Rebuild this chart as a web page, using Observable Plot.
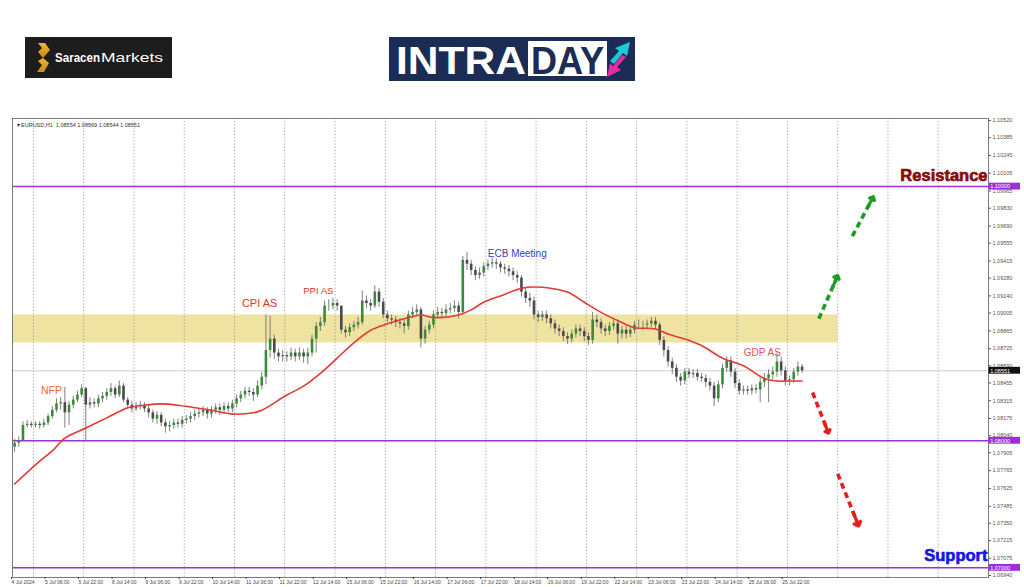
<!DOCTYPE html>
<html><head><meta charset="utf-8">
<script src="https://cdn.jsdelivr.net/npm/d3@7"></script>
<script src="https://cdn.jsdelivr.net/npm/@observablehq/plot@0.6"></script>
<style>
html,body{margin:0;padding:0;background:#fff;width:1024px;height:587px;overflow:hidden;font-family:"Liberation Sans",Arial,sans-serif}
#header{position:relative;width:1024px;height:110px}
#chart svg{display:block}
</style></head>
<body>
<div id="header">
  <svg style="position:absolute;left:25px;top:37px" width="147" height="41">
    <rect width="147" height="41" fill="#1d1d1d"/>
    <defs><linearGradient id="gold" x1="0" y1="0" x2="0" y2="1"><stop offset="0" stop-color="#f2b632"/><stop offset="1" stop-color="#c98a1c"/></linearGradient></defs>
    <path d="M13 6 L20 6 L25 13 L18 21 L13 15 L17 11 Z" fill="url(#gold)"/>
    <path d="M18 21 L24 26 L19 35 L12 35 L17 28 L13 24 Z" fill="url(#gold)"/>
    <text x="30" y="25" fill="#fff" font-family="Liberation Sans, Arial, sans-serif" font-weight="bold" font-size="13" textLength="45" lengthAdjust="spacingAndGlyphs">Saracen</text>
    <text x="76" y="25" fill="#fff" font-family="Liberation Sans, Arial, sans-serif" font-size="13" textLength="62" lengthAdjust="spacingAndGlyphs">Markets</text>
  </svg>
  <svg style="position:absolute;left:389px;top:37px" width="246" height="44">
    <rect width="246" height="44" fill="#1b2d55"/>
    <text x="7" y="37" fill="#fff" font-family="Liberation Sans Narrow, Liberation Sans, Arial, sans-serif" font-weight="bold" font-size="38" textLength="130" lengthAdjust="spacingAndGlyphs">INTRA</text>
    <rect x="139" y="4" width="79" height="35" fill="#fff"/>
    <text x="142" y="37" fill="#1b2d55" font-family="Liberation Sans Narrow, Liberation Sans, Arial, sans-serif" font-weight="bold" font-size="38" textLength="73" lengthAdjust="spacingAndGlyphs">DAY</text>
    <path d="M221 24 L230 14 L226 11 L241 5 L238 19 L234 16 L225 27 Z" fill="#22c7d6"/>
    <path d="M237 20 L228 30 L232 33 L218 40 L221 26 L224 29 L233 18 Z" fill="#e62aa8"/>
  </svg>
</div>
<div id="chart"></div>
<script>
// ---- Data (EURUSD, 2-hour bars) ----
const firstOpen = 1.0795;
const closes = [
1.0798,1.0800,1.0812,1.0813,1.0812,1.0813,1.0812,1.0814,1.0819,1.0824,
1.0829,1.0830,1.0822,1.0828,1.0832,1.0836,1.0841,1.0828,1.0830,1.0829,
1.0833,1.0835,1.0838,1.0841,1.0836,1.0843,1.0832,1.0828,1.0825,1.0827,
1.0828,1.0825,1.0822,1.0817,1.0820,1.0814,1.0811,1.0812,1.0814,1.0813,
1.0816,1.0817,1.0819,1.0821,1.0822,1.0824,1.0821,1.0824,1.0826,1.0824,
1.0827,1.0825,1.0829,1.0833,1.0836,1.0839,1.0838,1.0836,1.0843,1.0850,
1.0871,1.0880,1.0869,1.0866,1.0867,1.0866,1.0869,1.0866,1.0869,1.0866,
1.0869,1.0880,1.0890,1.0893,1.0906,1.0906,1.0908,1.0906,1.0887,1.0885,
1.0889,1.0891,1.0893,1.0910,1.0908,1.0906,1.0917,1.0909,1.0899,1.0896,
1.0895,1.0893,1.0892,1.0890,1.0899,1.0901,1.0903,1.0880,1.0887,1.0891,
1.0899,1.0901,1.0900,1.0903,1.0904,1.0906,1.0901,1.0942,1.0939,1.0934,
1.0930,1.0932,1.0937,1.0939,1.0940,1.0939,1.0936,1.0935,1.0933,1.0930,
1.0928,1.0917,1.0912,1.0910,1.0899,1.0897,1.0899,1.0896,1.0892,1.0888,
1.0886,1.0882,1.0880,1.0884,1.0888,1.0886,1.0882,1.0879,1.0895,1.0893,
1.0888,1.0886,1.0890,1.0892,1.0884,1.0887,1.0884,1.0887,1.0891,1.0891,
1.0891,1.0892,1.0894,1.0891,1.0879,1.0871,1.0862,1.0857,1.0850,1.0847,
1.0854,1.0852,1.0853,1.0850,1.0849,1.0846,1.0843,1.0833,1.0844,1.0857,
1.0863,1.0854,1.0845,1.0839,1.0840,1.0839,1.0841,1.0840,1.0846,1.0849,
1.0852,1.0854,1.0862,1.0855,1.0847,1.0848,1.0854,1.0858,1.0855];
const highs = [
1.0801,1.0803,1.0815,1.0816,1.0815,1.0815,1.0815,1.0817,1.0821,1.0827,
1.0833,1.0834,1.0842,1.0831,1.0835,1.0839,1.0844,1.0842,1.0834,1.0833,
1.0836,1.0838,1.0841,1.0845,1.0843,1.0847,1.0845,1.0834,1.0831,1.0830,
1.0831,1.0830,1.0828,1.0824,1.0823,1.0822,1.0817,1.0815,1.0817,1.0817,
1.0819,1.0820,1.0822,1.0824,1.0825,1.0827,1.0826,1.0827,1.0829,1.0829,
1.0830,1.0830,1.0832,1.0836,1.0839,1.0842,1.0842,1.0841,1.0847,1.0854,
1.0899,1.0898,1.0883,1.0872,1.0871,1.0870,1.0873,1.0872,1.0873,1.0872,
1.0873,1.0883,1.0893,1.0897,1.0910,1.0911,1.0912,1.0911,1.0893,1.0890,
1.0892,1.0894,1.0897,1.0918,1.0914,1.0911,1.0922,1.0920,1.0912,1.0902,
1.0899,1.0898,1.0896,1.0895,1.0902,1.0905,1.0907,1.0905,1.0890,1.0894,
1.0902,1.0905,1.0904,1.0907,1.0908,1.0910,1.0909,1.0945,1.0948,1.0942,
1.0937,1.0936,1.0940,1.0942,1.0944,1.0943,1.0941,1.0939,1.0938,1.0936,
1.0933,1.0930,1.0920,1.0916,1.0913,1.0902,1.0902,1.0902,1.0899,1.0895,
1.0891,1.0889,1.0885,1.0887,1.0891,1.0891,1.0889,1.0885,1.0901,1.0899,
1.0896,1.0891,1.0893,1.0895,1.0895,1.0890,1.0890,1.0890,1.0894,1.0895,
1.0894,1.0895,1.0897,1.0897,1.0893,1.0882,1.0874,1.0865,1.0860,1.0853,
1.0857,1.0857,1.0856,1.0856,1.0853,1.0852,1.0849,1.0846,1.0847,1.0860,
1.0866,1.0866,1.0857,1.0848,1.0843,1.0843,1.0844,1.0844,1.0849,1.0853,
1.0856,1.0858,1.0869,1.0866,1.0858,1.0851,1.0857,1.0862,1.0860];
const lows = [
1.0791,1.0795,1.0799,1.0810,1.0810,1.0810,1.0809,1.0810,1.0812,1.0817,
1.0822,1.0824,1.0810,1.0812,1.0825,1.0830,1.0834,1.0800,1.0825,1.0826,
1.0826,1.0830,1.0832,1.0835,1.0833,1.0834,1.0830,1.0825,1.0822,1.0823,
1.0824,1.0822,1.0818,1.0814,1.0813,1.0811,1.0806,1.0807,1.0809,1.0810,
1.0810,1.0813,1.0814,1.0816,1.0818,1.0819,1.0817,1.0818,1.0821,1.0820,
1.0821,1.0822,1.0822,1.0826,1.0830,1.0833,1.0835,1.0831,1.0834,1.0840,
1.0844,1.0865,1.0864,1.0862,1.0862,1.0862,1.0863,1.0862,1.0863,1.0861,
1.0860,1.0866,1.0869,1.0886,1.0890,1.0902,1.0903,1.0902,1.0884,1.0881,
1.0882,1.0886,1.0888,1.0891,1.0904,1.0902,1.0904,1.0905,1.0896,1.0893,
1.0891,1.0889,1.0888,1.0884,1.0887,1.0896,1.0898,1.0873,1.0876,1.0884,
1.0888,1.0896,1.0896,1.0897,1.0900,1.0901,1.0896,1.0899,1.0934,1.0930,
1.0926,1.0927,1.0929,1.0934,1.0936,1.0935,1.0932,1.0931,1.0929,1.0926,
1.0924,1.0913,1.0908,1.0905,1.0895,1.0893,1.0894,1.0892,1.0888,1.0884,
1.0882,1.0878,1.0876,1.0877,1.0881,1.0882,1.0878,1.0875,1.0876,1.0889,
1.0884,1.0882,1.0883,1.0887,1.0876,1.0880,1.0880,1.0881,1.0884,1.0888,
1.0887,1.0888,1.0889,1.0887,1.0875,1.0866,1.0858,1.0852,1.0846,1.0843,
1.0844,1.0849,1.0849,1.0847,1.0846,1.0842,1.0839,1.0827,1.0830,1.0841,
1.0854,1.0850,1.0841,1.0836,1.0836,1.0836,1.0836,1.0837,1.0830,1.0842,
1.0830,1.0848,1.0850,1.0851,1.0843,1.0843,1.0845,1.0851,1.0853];

// moving average (bar index, price)
const maIdx = [0,6,9,12,17,22,25,27,31,35,39,43,47,52,57,59,65,69,73,77,81,85,89,93,97,100,106,109,112,116,121,124,128,132,136,140,145,148,153,156,161,164,169,174,179,182,185,188];
const maVals = [1.0766,1.0784,1.0792,1.0802,1.0810,1.0818,1.0823,1.0826,1.0828,1.0829,1.0828,1.0826,1.0824,1.0821,1.0822,1.0824,1.0836,1.0843,1.0853,1.0865,1.0877,1.0887,1.0892,1.0896,1.0899,1.0897,1.0899,1.0903,1.0909,1.0914,1.0920,1.0921,1.0920,1.0917,1.0909,1.0901,1.0893,1.0889,1.0888,1.0884,1.0879,1.0875,1.0865,1.0859,1.0849,1.0847,1.0847,1.0847];

// x axis: hourly bar index, one label every 16 hourly bars
const xLabels = ["4 Jul 2024","5 Jul 06:00","5 Jul 22:00","8 Jul 14:00","9 Jul 06:00","9 Jul 22:00","10 Jul 14:00","11 Jul 06:00","11 Jul 22:00","12 Jul 14:00","15 Jul 06:00","15 Jul 22:00","16 Jul 14:00","17 Jul 06:00","17 Jul 22:00","18 Jul 14:00","19 Jul 06:00","19 Jul 22:00","22 Jul 14:00","23 Jul 06:00","23 Jul 22:00","24 Jul 14:00","25 Jul 06:00","25 Jul 22:00"];
const dayStarts = [10,34,58,82,106,130,154,178,202,226,250,274,298,322,346,370,394,418,442];
const yTicks = [1.10520,1.10385,1.10245,1.10105,1.09965,1.09830,1.09690,1.09555,1.09415,1.09280,1.09140,1.09005,1.08865,1.08725,1.08590,1.08455,1.08315,1.08175,1.08040,1.07905,1.07765,1.07625,1.07485,1.07350,1.07215,1.07075,1.06940];

// levels
const levelValues = [1.10000, 1.08000, 1.07000];
const bidPrice = 1.08551;
const zoneLow = 1.0877, zoneHigh = 1.0899, zoneEnd = 394;

// events
const eventNames = ["NFP","CPI AS","PPI AS","ECB Meeting","GDP AS"];
const eventX = [18.6,118,146,241,358];
const eventY = [1.08395,1.0908,1.0918,1.0947,1.0869];
const eventColors = ["#ea6a3c","#e2332a","#e2332a","#3344c4","#e4505c"];
const eventSizes = [10.5,11,9.5,10,10];

// scenario arrows
const arrowX1 = [385,401,382,394];
const arrowY1 = [1.0896,1.0961,1.0838,1.0774];
const arrowX2 = [394,411,389.6,404];
const arrowY2 = [1.0930,1.0992,1.0806,1.0733];
const arrowColors = ["#1f9a26","#1f9a26","#e61e1a","#e61e1a"];

// ---- build tables ----
const bars = closes.map((c,i)=>({x:2*i+1, o: i===0?firstOpen:closes[i-1], h:highs[i], l:lows[i], c}));
const ma = maIdx.map((k,i)=>({x:2*k+1, y:maVals[i]}));
const events = eventNames.map((n,i)=>({n, x:eventX[i], y:eventY[i], c:eventColors[i], s:eventSizes[i]}));
const arrows = arrowX1.map((x,i)=>({x1:x, y1:arrowY1[i], x2:arrowX2[i], y2:arrowY2[i], c:arrowColors[i]}));
// solid segment at the tip so the arrow head is drawn solid
const heads = arrows.map(a=>({x1:a.x2-(a.x2-a.x1)*0.26, y1:a.y2-(a.y2-a.y1)*0.26, x2:a.x2, y2:a.y2, c:a.c}));
const priceTags = [
  ...levelValues.map(v=>({v, label:v.toFixed(5), fill:"#9b30d9"})),
  {v:bidPrice, label:bidPrice.toFixed(5), fill:"#111"}
];
const xMax = 466;
const halfTag = 0.00027;

const font = "Liberation Sans, Arial, sans-serif";
const smallFont = "Liberation Sans Narrow, Liberation Sans, Arial, sans-serif";

const chart = Plot.plot({
  width: 1024, height: 477,
  marginTop: 8, marginBottom: 10, marginLeft: 12, marginRight: 36,
  style: {background:"#fff", fontFamily: smallFont, overflow:"visible"},
  x: {domain:[0, xMax]},
  y: {domain:[1.06924, 1.10536]},
  marks: [
    Plot.rect([{}], {x1:()=>0, x2:()=>zoneEnd, y1:()=>zoneLow, y2:()=>zoneHigh, fill:"#efe3a2"}),
    Plot.ruleX(dayStarts, {stroke:"#8c8c8c", strokeWidth:0.8, strokeDasharray:"1.2,2"}),
    Plot.ruleY([bidPrice], {stroke:"#cfcfcf", strokeWidth:1}),
    Plot.ruleY(levelValues, {stroke:"#9b30d9", strokeWidth:1.5}),
    Plot.ruleX(bars, {x:"x", y1:"l", y2:"h", stroke:"#707070", strokeWidth:0.9}),
    Plot.ruleX(bars, {x:"x", y1:"o", y2:"c", stroke:d=>d.c>=d.o?"#3b8a3b":"#4a4a4a", strokeWidth:2.6, strokeLinecap:"butt"}),
    Plot.line(ma, {x:"x", y:"y", stroke:"#e23a34", strokeWidth:1.6, curve:"catmull-rom"}),
    Plot.text(events, {x:"x", y:"y", text:"n", fill:"c", fontSize:"s", fontFamily:font}),
    Plot.link(arrows, {x1:"x1", y1:"y1", x2:"x2", y2:"y2", stroke:"c", strokeWidth:3.6, strokeDasharray:"6,4"}),
    Plot.arrow(heads, {x1:"x1", y1:"y1", x2:"x2", y2:"y2", stroke:"c", strokeWidth:3.2, headLength:10, headAngle:90}),
    Plot.frame({stroke:"#7a7a7a"}),
    Plot.axisX({ticks: xLabels.map((_,i)=>i*16), tickFormat: d=>xLabels[d/16], tickSize:2, tickPadding:1, fontSize:5, textAnchor:"start", dx:-1, color:"#444", label:null}),
    Plot.axisY({anchor:"right", ticks:yTicks, tickFormat:d=>d.toFixed(5), tickSize:2, tickPadding:2, fontSize:5.5, color:"#555", label:null}),
    Plot.rect(priceTags, {x1:()=>xMax+0.3, x2:()=>xMax+15.3, y1:d=>d.v-halfTag, y2:d=>d.v+halfTag, fill:"fill"}),
    Plot.text(priceTags, {x:()=>xMax+0.8, y:"v", text:"label", fill:"#fff", fontSize:5.5, textAnchor:"start"}),
    Plot.text(["Resistance"], {x:()=>xMax, y:()=>1.10087, dx:-1, textAnchor:"end", fill:"#8a0c0c", stroke:"#8a0c0c", strokeWidth:0.7, fontSize:16.5, fontWeight:900, fontFamily:font}),
    Plot.text(["Support"], {x:()=>xMax, y:()=>1.07097, dx:-1, textAnchor:"end", fill:"#1818e0", stroke:"#1818e0", strokeWidth:0.7, fontSize:16.5, fontWeight:900, fontFamily:font}),
    Plot.text(["\u25BE EURUSD,H1  1.08554 1.08569 1.08544 1.08551"], {frameAnchor:"top-left", dx:4, dy:5, fontSize:5.5, fill:"#333", textAnchor:"start"})
  ]
});
document.getElementById("chart").appendChild(chart);
</script>
</body></html>
